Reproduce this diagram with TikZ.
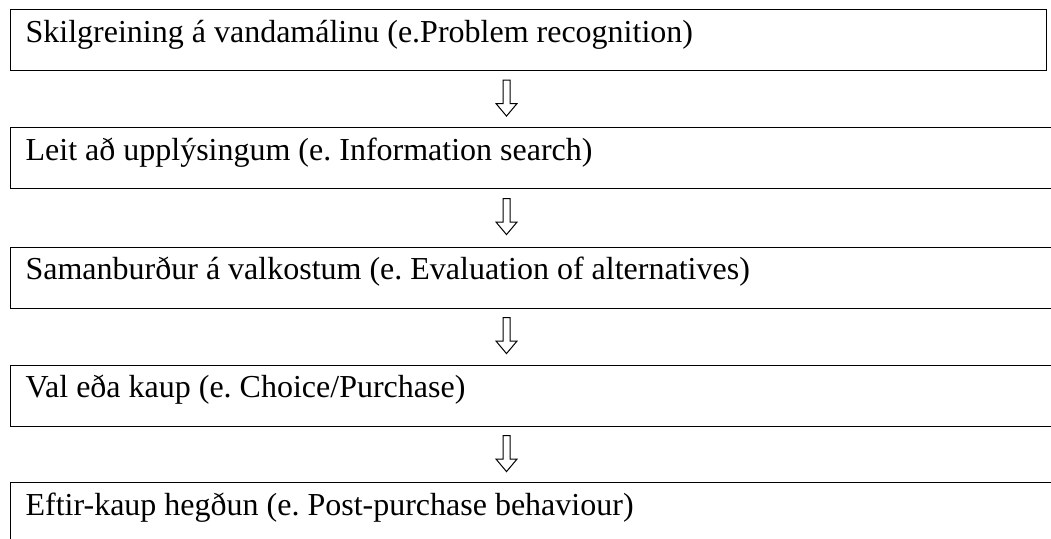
\documentclass[tikz,border=0pt]{standalone}
\usepackage{fontspec}
\setmainfont{Liberation Serif}
\usetikzlibrary{shapes.arrows}
\begin{document}
\frenchspacing
\begin{tikzpicture}[x=1pt,y=-1pt,
  stagebox/.style={draw, line width=1.3pt, rectangle, anchor=north west,
    inner sep=0pt, minimum height=61pt},
  stagetext/.style={anchor=base west, inner sep=0pt,
    font=\fontsize{32}{38}\selectfont\frenchspacing},
  downarrow/.style={draw, line width=1pt, single arrow, shape border rotate=270,
    minimum height=36pt, single arrow head extend=7pt, inner sep=3pt,
    single arrow tip angle=80}]
\useasboundingbox (0,0) rectangle (1051,538);
\clip (0,0) rectangle (1051,538);
\node[stagebox, minimum width=1036pt] (b1) at (10,9) {};
\node[stagebox, minimum width=1060pt] (b2) at (10,127) {};
\node[stagebox, minimum width=1060pt] (b3) at (10,246.5) {};
\node[stagebox, minimum width=1060pt] (b4) at (10,364.5) {};
\node[stagebox, minimum width=1060pt] (b5) at (10,482) {};
\node[stagetext] (t1) at ([xshift=15.4pt,yshift=-33.3pt]b1.north west) {Skilgreining á vandamálinu (e.Problem recognition)};
\node[stagetext] (t2) at ([xshift=15.4pt,yshift=-33.3pt]b2.north west) {Leit að upplýsingum (e. Information search)};
\node[stagetext] (t3) at ([xshift=15.4pt,yshift=-33.3pt]b3.north west) {Samanburður á valkostum (e. Evaluation of alternatives)};
\node[stagetext] (t4) at ([xshift=15.4pt,yshift=-33.3pt]b4.north west) {Val eða kaup (e. Choice/Purchase)};
\node[stagetext] (t5) at ([xshift=15.4pt,yshift=-33.3pt]b5.north west) {Eftir-kaup hegðun (e. Post-purchase behaviour)};
\node[downarrow] (a1) at (506.5,96) {};
\node[downarrow] (a2) at (506.5,214.5) {};
\node[downarrow] (a3) at (506.5,333.5) {};
\node[downarrow] (a4) at (506.5,451.5) {};
\end{tikzpicture}
\end{document}
